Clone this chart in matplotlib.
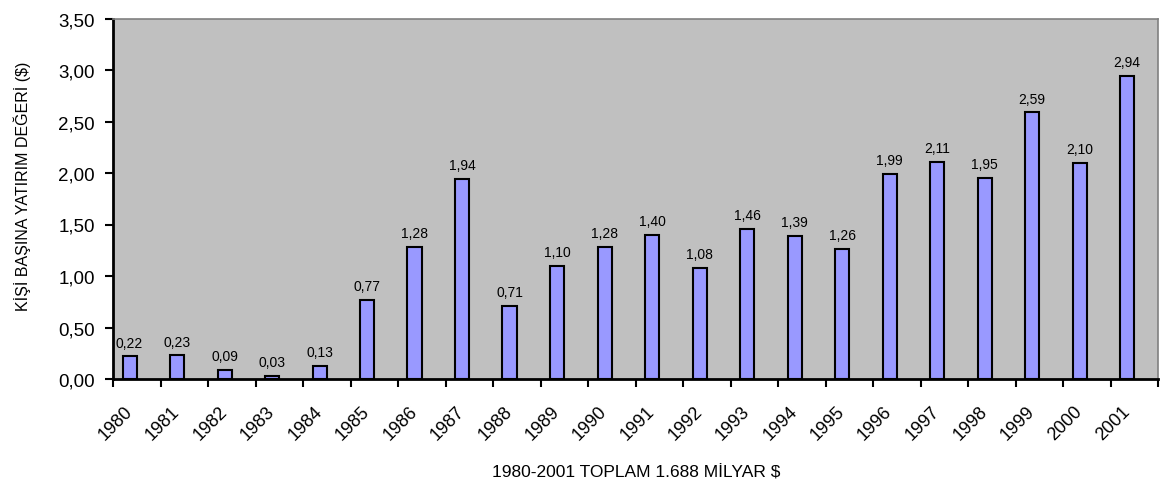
import matplotlib
matplotlib.use("Agg")
import matplotlib.pyplot as plt
from matplotlib.ticker import FixedLocator, FuncFormatter

plt.rcParams["font.family"] = ["Liberation Sans", "DejaVu Sans"]

years = [str(y) for y in range(1980, 2002)]
values = [0.22, 0.23, 0.09, 0.03, 0.13, 0.77, 1.28, 1.94, 0.71, 1.10, 1.28,
          1.40, 1.08, 1.46, 1.39, 1.26, 1.99, 2.11, 1.95, 2.59, 2.10, 2.94]
y_label = "KİŞİ BAŞINA YATIRIM DEĞERİ ($)"
x_label = "1980-2001 TOPLAM 1.688 MİLYAR $"

fig = plt.figure(figsize=(11.6, 4.89), dpi=100)
ax = fig.add_axes([113 / 1160, 1 - 380 / 489, 1045 / 1160, 360.5 / 489])
ax.set_facecolor("#c0c0c0")

# each category spans [i, i+1]; bar sits left of centre like the spreadsheet default
n = len(years)
xs = [i + 0.35 for i in range(n)]
ax.bar(xs, values, width=0.3, color="#9999ff", edgecolor="black", linewidth=1.5, zorder=3)

for x, v in zip(xs, values):
    ax.annotate(f"{v:.2f}".replace(".", ","), (x, v), xytext=(0, 7),
                textcoords="offset points", ha="center", va="baseline", fontsize=10)

ax.set_xlim(0, n)
ax.set_ylim(0, 3.5)
ax.set_yticks([i * 0.5 for i in range(8)])
ax.yaxis.set_major_formatter(FuncFormatter(lambda v, p: f"{v:.2f}".replace(".", ",")))

# boundary ticks carry the marks, minor ticks carry the year labels
ax.xaxis.set_major_locator(FixedLocator(range(n + 1)))
ax.xaxis.set_major_formatter(FuncFormatter(lambda v, p: ""))
ax.xaxis.set_minor_locator(FixedLocator([i + 0.22 for i in range(n)]))
ax.set_xticklabels(years, minor=True)
ax.tick_params(axis="x", which="major", direction="out", length=6, width=1.5)
ax.tick_params(axis="x", which="minor", length=0, pad=17, labelsize=13)
for lab in ax.get_xticklabels(minor=True):
    lab.set_rotation(45)
    lab.set_rotation_mode("anchor")
    lab.set_ha("right")
    lab.set_va("top")
ax.tick_params(axis="y", direction="out", length=6, width=1.5, pad=7, labelsize=13.5)

for side in ("left", "bottom"):
    ax.spines[side].set_linewidth(2)
    ax.spines[side].set_color("black")
for side in ("top", "right"):
    ax.spines[side].set_linewidth(1.2)
    ax.spines[side].set_color("#808080")

fig.text(22 / 1160, 1 - 186 / 489, y_label, rotation=90, ha="center", va="center", fontsize=11.5)
fig.text(636 / 1160, 1 - 473 / 489, x_label, ha="center", va="center", fontsize=12.5)

fig.savefig("out.png", dpi=100)
